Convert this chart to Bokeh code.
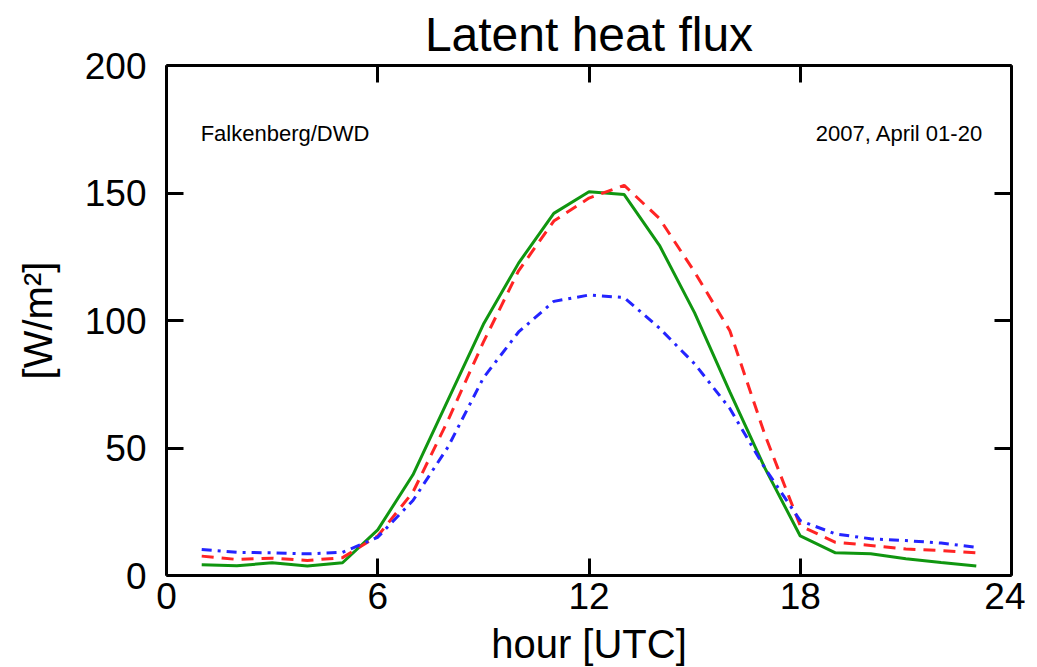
from bokeh.plotting import figure
from bokeh.models import LinearAxis, FixedTicker, Label, Range1d, CustomJSTickFormatter
from bokeh.embed import file_html
from bokeh.resources import INLINE

# ---- data ----
hours = [1, 2, 3, 4, 5, 6, 7, 8, 9, 10, 11, 12, 13, 14, 15, 16, 17, 18, 19, 20, 21, 22, 23]
flux_green = [4.2, 3.8, 5.0, 3.7, 5.0, 17.9, 39.5, 69.0, 98.5, 122.5, 142.0, 150.5,
              149.4, 129.5, 103.0, 72.0, 42.0, 15.5, 8.9, 8.5, 6.6, 5.1, 3.7]
flux_red = [7.6, 6.3, 6.8, 5.9, 7.0, 15.5, 32.7, 61.0, 91.5, 119.5, 139.0, 148.0,
            153.0, 140.0, 119.0, 96.0, 55.0, 19.5, 13.0, 11.8, 10.4, 9.8, 8.9]
flux_blue = [10.2, 9.1, 8.9, 8.5, 9.1, 15.0, 29.4, 50.5, 77.5, 95.5, 107.5, 110.0,
             109.0, 97.0, 83.0, 65.5, 42.0, 21.5, 16.3, 14.4, 13.7, 12.7, 11.1]
x_ticks = [0, 6, 12, 18, 24]
y_ticks = [0, 50, 100, 150, 200]

FONT = "Liberation Sans"

p = figure(frame_width=845, frame_height=510,
           x_range=Range1d(0, 24), y_range=Range1d(0, 200),
           output_backend="svg", toolbar_location=None,
           min_border_left=166, min_border_right=14,
           min_border_top=65, min_border_bottom=92,
           x_axis_label="hour [UTC]", y_axis_label="[W/m²]",
           background_fill_color="white", border_fill_color="white")

p.grid.visible = False
p.outline_line_color = None

p.title.text = "Latent heat flux"
p.title.align = "center"
p.title.text_font = FONT
p.title.text_font_size = "48px"
p.title.text_font_style = "normal"
p.title.text_color = "black"
p.title.standoff = 10


def style_axis(ax, ticks, minor):
    ax.ticker = FixedTicker(ticks=ticks, num_minor_ticks=minor)
    ax.axis_line_width = 3
    ax.axis_line_color = "black"
    ax.major_tick_line_width = 3
    ax.minor_tick_line_width = 3
    ax.major_tick_line_color = "black"
    ax.minor_tick_line_color = "black"
    ax.major_tick_in = 17
    ax.major_tick_out = 0
    ax.minor_tick_in = 9
    ax.minor_tick_out = 0
    ax.major_label_text_font = FONT
    ax.major_label_text_color = "black"
    ax.axis_label_text_font = FONT
    ax.axis_label_text_font_style = "normal"
    ax.axis_label_text_color = "black"


xa = p.xaxis[0]
style_axis(xa, x_ticks, 6)
xa.major_label_text_font_size = "37px"
xa.major_label_standoff = 7
xa.axis_label_text_font_size = "40px"
xa.axis_label_standoff = 10

ya = p.yaxis[0]
style_axis(ya, y_ticks, 5)
ya.major_label_text_font_size = "37px"
ya.major_label_standoff = 20
ya.axis_label_text_font_size = "40px"
ya.axis_label_standoff = 22

# mirrored axes (ticks only, no labels)
top = LinearAxis(axis_label=None)
style_axis(top, x_ticks, 6)
top.formatter = CustomJSTickFormatter(code="return ''")
top.major_label_standoff = 0
p.add_layout(top, "above")

right = LinearAxis(axis_label=None)
style_axis(right, y_ticks, 5)
right.formatter = CustomJSTickFormatter(code="return ''")
right.major_label_standoff = 0
p.add_layout(right, "right")

p.line(hours, flux_green, line_color="#109610", line_width=3)
p.line(hours, flux_red, line_color="#ff2424", line_width=3, line_dash="12 8")
p.line(hours, flux_blue, line_color="#2424ff", line_width=3, line_dash="10 6 3 6")

p.add_layout(Label(x=0.97, y=173.3, text="Falkenberg/DWD", text_font=FONT,
                   text_font_size="22px", text_baseline="middle", text_align="left",
                   text_color="black"))
p.add_layout(Label(x=23.2, y=173.3, text="2007, April 01-20", text_font=FONT,
                   text_font_size="22px", text_baseline="middle", text_align="right",
                   text_color="black"))

open("out.html", "w").write(file_html(p, INLINE))
